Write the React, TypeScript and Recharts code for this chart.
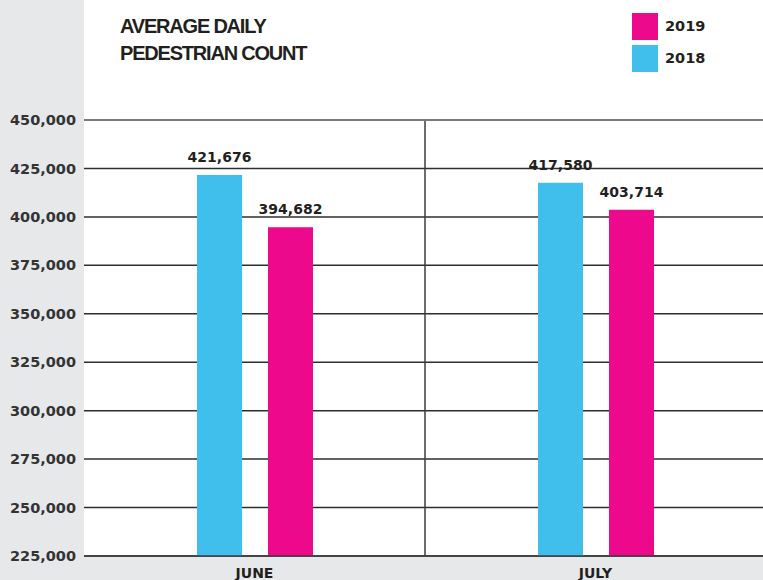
import React from "react";
import { BarChart, Bar, XAxis, YAxis, CartesianGrid, ReferenceLine, LabelList } from "recharts";

const months = ["JUNE", "JULY"];
const values2018 = [421676, 417580];
const values2019 = [394682, 403714];
const yTicks = [225000, 250000, 275000, 300000, 325000, 350000, 375000, 400000, 425000, 450000];
const legendItems = [
  { label: "2019", color: "#ec098c" },
  { label: "2018", color: "#41bfec" },
];
const title = ["AVERAGE DAILY", "PEDESTRIAN COUNT"];

const data = months.map((m, i) => ({ month: m, idx: i + 0.5, y2018: values2018[i], y2019: values2019[i] }));

const fmt = (v: number) => v.toLocaleString("en-US");
const FONT = "'DejaVu Sans', sans-serif";
const GRAY = "#e7e8ea";

export default function App() {
  return (
    <div style={{ position: "absolute", left: 0, top: 0, width: 763, height: 580, overflow: "hidden", background: "#fff" }}>
      <div style={{ position: "absolute", left: 0, top: 0, width: 84, height: 580, background: GRAY }} />
      <div style={{ position: "absolute", left: 0, top: 557, width: 763, height: 23, background: GRAY }} />
      <div style={{ position: "absolute", left: 120, top: 13, fontFamily: "'Liberation Sans', Arial, sans-serif", fontWeight: 700, fontSize: 20, letterSpacing: -1.2, lineHeight: "27px", color: "#231f20" }}>
        {title.map((t) => (
          <div key={t}>{t}</div>
        ))}
      </div>
      <div style={{ position: "absolute", left: 632, top: 10 }}>
        {legendItems.map((it) => (
          <div key={it.label} style={{ display: "flex", alignItems: "center", height: 32 }}>
            <div style={{ width: 26, height: 27, background: it.color }} />
            <span style={{ marginLeft: 7, fontFamily: FONT, fontWeight: 700, fontSize: 14.5, color: "#231f20" }}>{it.label}</span>
          </div>
        ))}
      </div>
      <div style={{ position: "absolute", left: 0, top: 0 }}>
        <BarChart width={766} height={580} data={data} margin={{ top: 120, right: 0, bottom: 0, left: 0 }} barSize={45} barGap={26}>
          <CartesianGrid vertical={false} stroke="#2e2e2e" strokeWidth={1.5} />
          <XAxis dataKey="month" axisLine={false} tickLine={false} height={24} tickMargin={6} tick={{ fill: "#231f20", fontFamily: FONT, fontWeight: 700, fontSize: 14 }} />
          <XAxis xAxisId="div" type="number" dataKey="idx" domain={[0, 2]} hide height={0} />
          <YAxis width={84} domain={[225000, 450000]} ticks={yTicks} tickFormatter={fmt} axisLine={false} tickLine={false} interval={0} tick={{ fill: "#333", fontFamily: FONT, fontWeight: 700, fontSize: 14.5 }} />
          <ReferenceLine xAxisId="div" x={1} stroke="#3c3c3c" strokeWidth={1.5} />
          <ReferenceLine y={450000} stroke="#7a7a7a" strokeWidth={2} />
          <ReferenceLine y={225000} stroke="#3c3c3c" strokeWidth={1.5} />
          <Bar dataKey="y2018" fill="#41bfec" isAnimationActive={false}>
            <LabelList dataKey="y2018" position="top" offset={13} formatter={(v: any) => fmt(Number(v))} style={{ fill: "#231f20", fontFamily: FONT, fontWeight: 700, fontSize: 14 }} />
          </Bar>
          <Bar dataKey="y2019" fill="#ec098c" isAnimationActive={false}>
            <LabelList dataKey="y2019" position="top" offset={13} formatter={(v: any) => fmt(Number(v))} style={{ fill: "#231f20", fontFamily: FONT, fontWeight: 700, fontSize: 14 }} />
          </Bar>
        </BarChart>
      </div>
    </div>
  );
}
